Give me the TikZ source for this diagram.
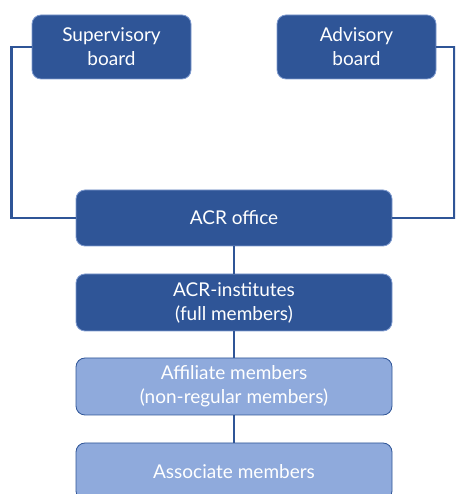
\documentclass[tikz,border=0pt]{standalone}
\usepackage{fontspec}
\setmainfont{Lato}
\begin{document}
\begin{tikzpicture}[x=1pt,y=1pt,
  darkbox/.style={draw=dkborder,line width=0.8pt,fill=dkblue,rounded corners=9pt,text=white,align=center,font=\fontsize{19}{24}\selectfont,inner sep=0pt},
  lightbox/.style={draw=dkblue,line width=0.8pt,fill=ltblue,rounded corners=9pt,text=white,align=center,font=\fontsize{19}{24}\selectfont,inner sep=0pt},
  conn/.style={draw=dkblue,line width=2.6pt}]
\definecolor{dkblue}{HTML}{2F5597}
\definecolor{ltblue}{HTML}{8FAADC}
\definecolor{dkborder}{HTML}{7F9BCF}
\useasboundingbox (0,0) rectangle (455,494);
\clip (0,0) rectangle (455,494);
\node[darkbox,minimum width=159,minimum height=64] (sup) at (111.5,447) {Supervisory\\board};
\node[darkbox,minimum width=159,minimum height=64] (adv) at (356.5,447) {Advisory\\board};
\node[darkbox,minimum width=316,minimum height=56] (off) at (234,276) {ACR office};
\node[darkbox,minimum width=316,minimum height=57] (inst) at (234,191.5) {ACR-institutes\\(full members)};
\node[lightbox,minimum width=316,minimum height=57] (aff) at (234,107.5) {Affiliate members\\(non-regular members)};
\node[lightbox,minimum width=316,minimum height=57] (ass) at (234,22.5) {Associate members};
\draw[conn] (sup.west) -- ++(-20,0) |- (off.west);
\draw[conn] (adv.east) -- ++(18,0) |- (off.east);
\draw[conn] (off.south) -- (inst.north);
\draw[conn] (inst.south) -- (aff.north);
\draw[conn] (aff.south) -- (ass.north);
\end{tikzpicture}
\end{document}
